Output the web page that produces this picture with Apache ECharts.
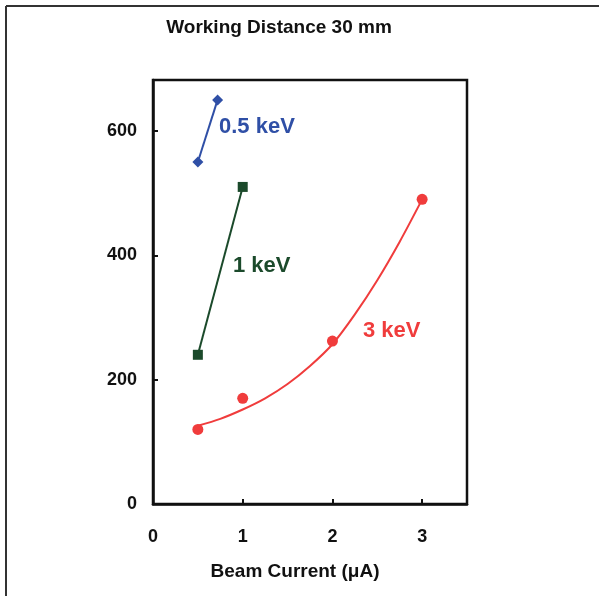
<!DOCTYPE html>
<html>
<head>
<meta charset="utf-8">
<script src="https://cdn.jsdelivr.net/npm/echarts@6/dist/echarts.min.js"></script>
<style>
  html, body { margin: 0; padding: 0; background: #fff; }
  #chart { width: 599px; height: 596px; }
</style>
</head>
<body>
<div id="chart"></div>
<script>
// 数据
var kev05X = [0.5, 0.72];
var kev05Y = [550, 650];
var kev1X = [0.5, 1];
var kev1Y = [240, 510];
var kev3X = [0.5, 1, 2, 3];
var kev3Y = [120, 170, 262, 490];
// 3 keV 趋势线
var fitX = [0.5, 0.75, 1, 1.25, 1.5, 1.75, 2, 2.25, 2.5, 2.75, 3];
var fitY = [126, 137, 152, 170, 193, 222, 257, 305, 360, 422, 490];

var xTicks = [0, 1, 2, 3];
var yTicks = [0, 200, 400, 600];

var font = 'Liberation Sans, Arial, sans-serif';
var blue = '#2f4fa6';
var green = '#1b4a2b';
var red = '#f03c3c';

function pairs(xs, ys) {
  return xs.map(function (x, i) { return [x, ys[i]]; });
}

var chart = echarts.init(document.getElementById('chart'));

var option = {
  backgroundColor: '#fff',
  animation: false,
  grid: {
    left: 153, top: 80, width: 314, height: 424,
    show: true, borderColor: '#111', borderWidth: 2.5, backgroundColor: 'transparent'
  },
  xAxis: {
    type: 'value', min: 0, max: 3.5, interval: 1,
    splitLine: { show: false },
    axisLine: { lineStyle: { color: '#111', width: 2.5 } },
    axisTick: { inside: true, length: 5, lineStyle: { color: '#111', width: 2 } },
    axisLabel: {
      margin: 24, fontFamily: font, fontSize: 18, fontWeight: 'bold', color: '#111',
      formatter: function (v) { return xTicks.indexOf(v) >= 0 ? String(v) : ''; }
    }
  },
  yAxis: {
    type: 'value', min: 0, max: 682, interval: 200,
    splitLine: { show: false },
    axisLine: { lineStyle: { color: '#111', width: 2.5 } },
    axisTick: { inside: true, length: 5, lineStyle: { color: '#111', width: 2 } },
    axisLabel: {
      margin: 16, fontFamily: font, fontSize: 18, fontWeight: 'bold', color: '#111',
      formatter: function (v) { return yTicks.indexOf(v) >= 0 ? String(v) : ''; }
    }
  },
  series: [
    {
      name: '0.5 keV', type: 'line', data: pairs(kev05X, kev05Y),
      symbol: 'diamond', symbolSize: 11,
      lineStyle: { color: blue, width: 2 }, itemStyle: { color: blue }
    },
    {
      name: '1 keV', type: 'line', data: pairs(kev1X, kev1Y),
      symbol: 'rect', symbolSize: 10,
      lineStyle: { color: green, width: 2 }, itemStyle: { color: green }
    },
    {
      name: '3 keV fit', type: 'line', data: pairs(fitX, fitY),
      smooth: 0.3, showSymbol: false, symbol: 'none',
      lineStyle: { color: red, width: 2 }
    },
    {
      name: '3 keV', type: 'scatter', data: pairs(kev3X, kev3Y),
      symbol: 'circle', symbolSize: 11, itemStyle: { color: red, opacity: 1 }
    }
  ],
  graphic: [
    // 外框 (上, 左)
    { type: 'line', shape: { x1: 6, y1: 6, x2: 599, y2: 6 }, style: { stroke: '#333', lineWidth: 2 } },
    { type: 'line', shape: { x1: 6, y1: 6, x2: 6, y2: 596 }, style: { stroke: '#333', lineWidth: 2 } },
    {
      type: 'text', x: 279, y: 28,
      style: { text: 'Working Distance 30 mm', fill: '#111', font: 'bold 19px ' + font, align: 'center', verticalAlign: 'middle' }
    },
    {
      type: 'text', x: 219, y: 127,
      style: { text: '0.5 keV', fill: blue, font: 'bold 22px ' + font, verticalAlign: 'middle' }
    },
    {
      type: 'text', x: 233, y: 266,
      style: { text: '1 keV', fill: green, font: 'bold 22px ' + font, verticalAlign: 'middle' }
    },
    {
      type: 'text', x: 363, y: 331,
      style: { text: '3 keV', fill: red, font: 'bold 22px ' + font, verticalAlign: 'middle' }
    },
    {
      type: 'text', x: 295, y: 572,
      style: { text: 'Beam Current (μA)', fill: '#111', font: 'bold 19px ' + font, align: 'center', verticalAlign: 'middle' }
    }
  ]
};

chart.setOption(option);
</script>
</body>
</html>
